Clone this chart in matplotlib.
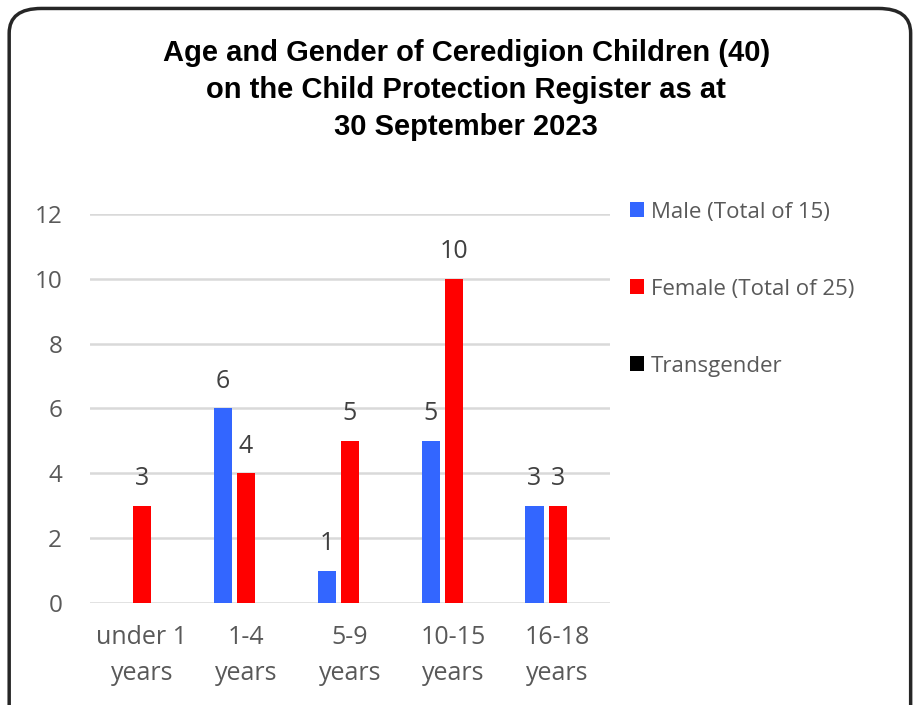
import numpy as np
import matplotlib
matplotlib.use("Agg")
import matplotlib.pyplot as plt
from matplotlib.patches import FancyBboxPatch

# Datos
categories = ["under 1\nyears", "1-4\nyears", "5-9\nyears", "10-15\nyears", "16-18\nyears"]
male = [0, 6, 1, 5, 3]
female = [3, 4, 5, 10, 3]
transgender = [0, 0, 0, 0, 0]
series_names = ["Male (Total of 15)", "Female (Total of 25)", "Transgender"]
y_ticks = [0, 2, 4, 6, 8, 10, 12]

colors = ["#3366ff", "#ff0000", "#000000"]
tick_color = "#595959"
label_color = "#404040"
body_font = ["Open Sans", "DejaVu Sans"]
title_font = ["Liberation Sans Narrow", "Liberation Sans", "DejaVu Sans"]

fig = plt.figure(figsize=(9.18, 7.05), dpi=100)

# Marco redondeado alrededor de todo el gráfico
frame = FancyBboxPatch((0.010, -0.05), 0.982, 1.038, boxstyle="round,pad=0,rounding_size=0.035",
                       transform=fig.transFigure, facecolor="none", edgecolor="#262626",
                       linewidth=2.5, zorder=5)
fig.patches.append(frame)

ax = fig.add_axes([0.098, 0.1447, 0.566, 0.5518])
ax.set_facecolor("none")

x = np.arange(len(categories))
width = 0.175
offset = 0.222
all_series = [male, female, transgender]
for i, (vals, name, col) in enumerate(zip(all_series, series_names, colors)):
    pos = x + (i - 1) * offset
    bars = ax.bar(pos, vals, width, color=col, label=name, zorder=3)
    for p, v in zip(pos, vals):
        if v > 0:
            ax.text(p, v + 0.45, str(v), ha="center", va="bottom", fontsize=18,
                    color=label_color, family=body_font)

ax.set_xlim(-0.5, len(categories) - 0.5)
ax.set_ylim(0, 12)
ax.set_yticks(y_ticks)
ax.set_xticks(x)
ax.set_xticklabels(categories, linespacing=1.55)
ax.tick_params(axis="y", length=0, labelsize=17.5, colors=tick_color, pad=20)
ax.tick_params(axis="x", length=0, labelsize=18, colors=tick_color, pad=16)
for lab in ax.get_xticklabels() + ax.get_yticklabels():
    lab.set_family(body_font)
ax.grid(axis="y", color="#d9d9d9", linewidth=1.8, zorder=0)
for s in ax.spines.values():
    s.set_visible(False)

leg = ax.legend(loc="upper left", bbox_to_anchor=(1.0, 1.083), frameon=False,
                handlelength=0.65, handleheight=0.65, handletextpad=0.3,
                labelspacing=2.52, prop={"family": body_font, "size": 16})
for t in leg.get_texts():
    t.set_color(tick_color)

fig.text(0.508, 0.945, "Age and Gender of Ceredigion Children (40)\non the Child Protection Register as at\n30 September 2023",
         ha="center", va="top", fontsize=21, fontweight="bold", family=title_font,
         linespacing=1.41, color="black")

fig.savefig("out.png", dpi=100, facecolor="white")
